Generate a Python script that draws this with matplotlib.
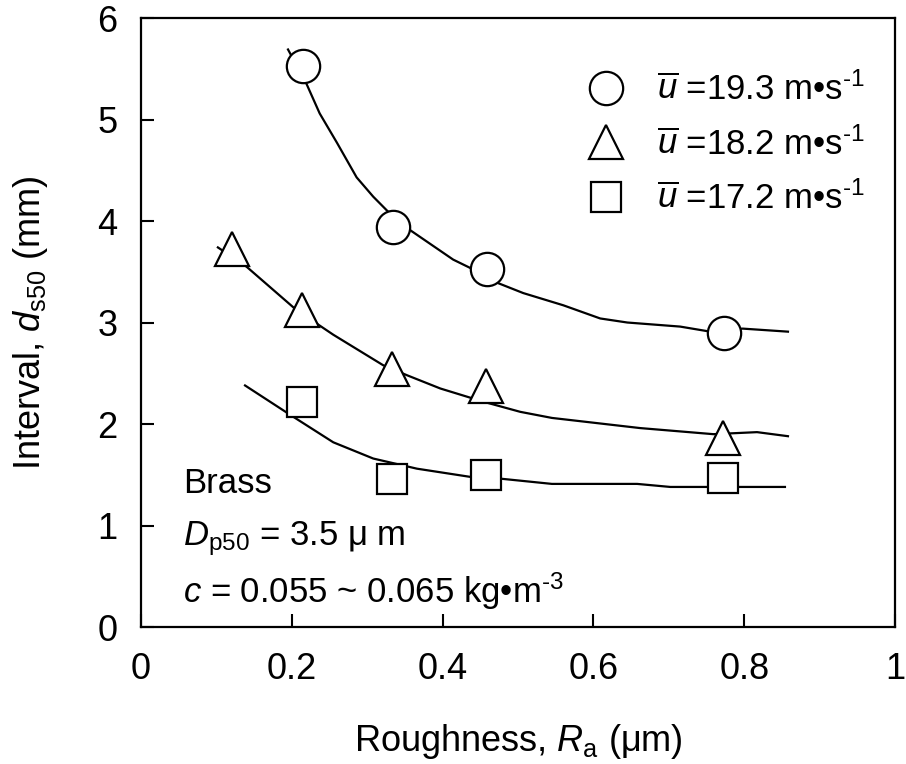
import matplotlib
matplotlib.use("Agg")
import matplotlib.pyplot as plt

plt.rcParams['font.family'] = ['Liberation Sans', 'DejaVu Sans']
plt.rcParams['mathtext.fontset'] = 'custom'
plt.rcParams['mathtext.rm'] = 'Liberation Sans'
plt.rcParams['mathtext.it'] = 'Liberation Sans:italic'
plt.rcParams['mathtext.bf'] = 'Liberation Sans:bold'

# measured points
ra_193 = [0.215, 0.334, 0.459, 0.773]
ds_193 = [5.53, 3.94, 3.53, 2.90]
ra_182 = [0.121, 0.213, 0.333, 0.457, 0.772]
ds_182 = [3.72, 3.12, 2.54, 2.37, 1.86]
ra_172 = [0.213, 0.333, 0.457, 0.772]
ds_172 = [2.22, 1.46, 1.50, 1.47]

# fitted curves
fit_x_193 = [0.195, 0.219, 0.237, 0.260, 0.286, 0.308, 0.328, 0.357, 0.414, 0.436,
             0.473, 0.507, 0.560, 0.609, 0.645, 0.715, 0.755, 0.798, 0.858]
fit_y_193 = [5.69, 5.36, 5.06, 4.77, 4.43, 4.24, 4.09, 3.91, 3.62, 3.54,
             3.39, 3.29, 3.17, 3.04, 3.00, 2.96, 2.91, 2.94, 2.91]
fit_x_182 = [0.102, 0.140, 0.202, 0.235, 0.255, 0.321, 0.353, 0.397, 0.454, 0.503,
             0.545, 0.662, 0.759, 0.817, 0.858]
fit_y_182 = [3.74, 3.55, 3.15, 2.98, 2.88, 2.58, 2.48, 2.35, 2.22, 2.12,
             2.06, 1.96, 1.90, 1.92, 1.88]
fit_x_172 = [0.138, 0.198, 0.255, 0.308, 0.366, 0.436, 0.479, 0.545, 0.658, 0.702,
             0.755, 0.854]
fit_y_172 = [2.38, 2.09, 1.82, 1.66, 1.56, 1.48, 1.46, 1.41, 1.41, 1.38,
             1.38, 1.38]

fig = plt.figure(figsize=(9.06, 7.64), dpi=100)
ax = fig.add_axes([0.1556, 0.1793, 0.8323, 0.7971])

for fx, fy in [(fit_x_193, fit_y_193), (fit_x_182, fit_y_182), (fit_x_172, fit_y_172)]:
    ax.plot(fx, fy, color='black', lw=1.6, zorder=2)

mk = dict(linestyle='none', markerfacecolor='white', markeredgecolor='black',
          markeredgewidth=1.6, zorder=3)
ax.plot(ra_193, ds_193, marker='o', markersize=24,
        label=r'$\overline{u}$ =19.3 m•s$^{\text{-1}}$', **mk)
ax.plot(ra_182, ds_182, marker='^', markersize=24,
        label=r'$\overline{u}$ =18.2 m•s$^{\text{-1}}$', **mk)
ax.plot(ra_172, ds_172, marker='s', markersize=22,
        label=r'$\overline{u}$ =17.2 m•s$^{\text{-1}}$', **mk)

ax.set_xlim(0, 1)
ax.set_ylim(0, 6)
ax.set_xticks([0, 0.2, 0.4, 0.6, 0.8, 1])
ax.set_xticklabels(['0', '0.2', '0.4', '0.6', '0.8', '1'])
ax.set_yticks([0, 1, 2, 3, 4, 5, 6])
ax.tick_params(direction='in', length=9.5, width=1.5, labelsize=26, pad=17)
ax.tick_params(axis='x', pad=18)
for s in ax.spines.values():
    s.set_linewidth(1.6)

ax.set_xlabel(r'Roughness, $R_{\rm a}$ (μm)', fontsize=26, labelpad=25)
ax.set_ylabel(r'Interval, $d_{\rm s50}$ (mm)', fontsize=26, labelpad=34)

ax.text(0.056, 0.236, 'Brass', transform=ax.transAxes, fontsize=25, va='center')
ax.text(0.056, 0.145, r'$D_{\rm p50}$ = 3.5 μ m', transform=ax.transAxes, fontsize=25, va='center')
ax.text(0.056, 0.058, r'$c$ = 0.055 ~ 0.065 kg•m$^{\text{-3}}$', transform=ax.transAxes,
        fontsize=25, va='center')

ax.legend(loc='upper right', bbox_to_anchor=(0.987, 0.945), frameon=False, fontsize=25,
          handlelength=1.2, handletextpad=0.85, labelspacing=0.58, borderaxespad=0.2)

fig.savefig('out.png', dpi=100)
